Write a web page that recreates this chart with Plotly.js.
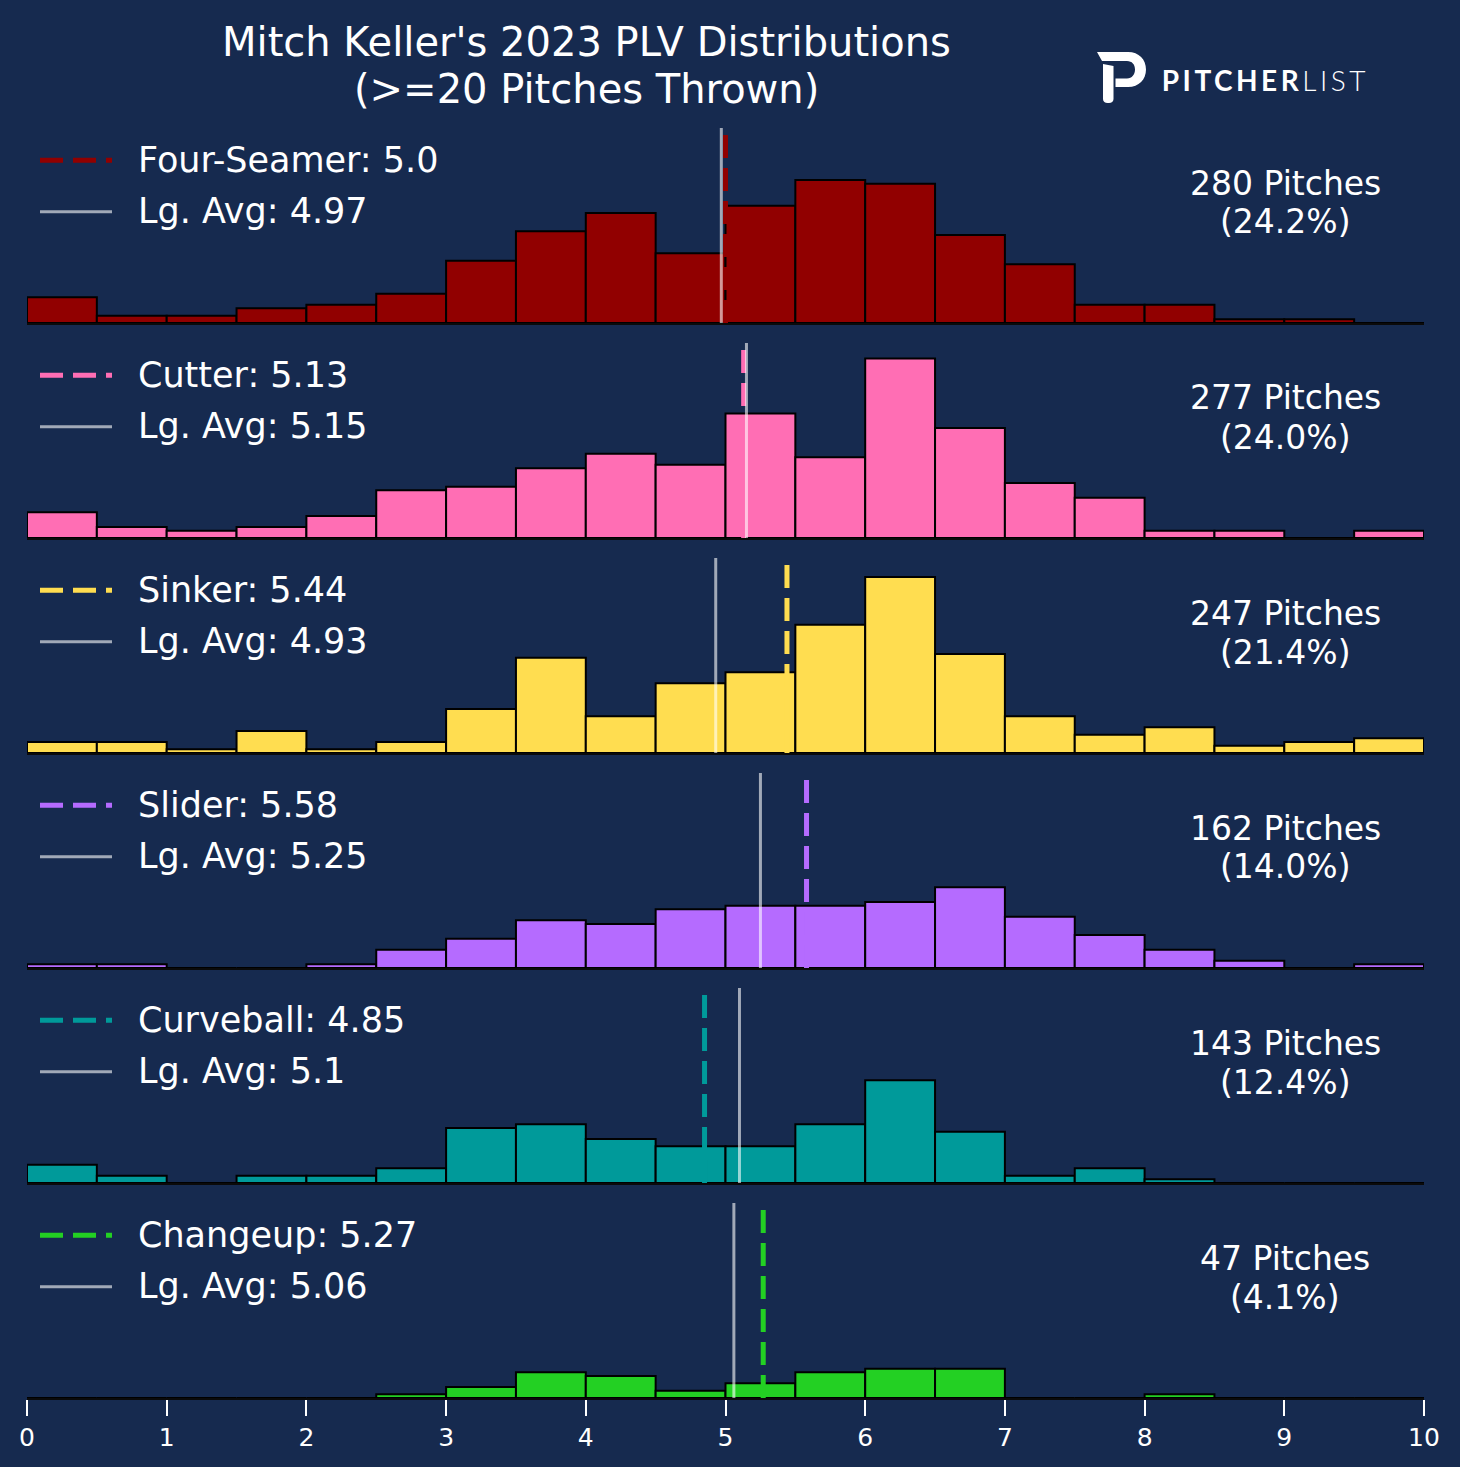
<!DOCTYPE html>
<html>
<head>
<meta charset="utf-8">
<script src="https://cdn.plot.ly/plotly-3.0.1.min.js"></script>
<style>
  html, body { margin: 0; padding: 0; background: #162a4f; }
  #chart { width: 1460px; height: 1467px; }
</style>
</head>
<body>
<div id="chart"></div>
<script>
// bins are 0.5 PLV wide, listed by their left edge
const binStarts = [0, 0.5, 1, 1.5, 2, 2.5, 3, 3.5, 4, 4.5, 5, 5.5, 6, 6.5, 7, 7.5, 8, 8.5, 9, 9.5];
const tickValues = [0, 1, 2, 3, 4, 5, 6, 7, 8, 9, 10];

const pitchNames = ['Four-Seamer', 'Cutter', 'Sinker', 'Slider', 'Curveball', 'Changeup'];
const pitchColors = ['#910000', '#ff6eb4', '#ffdd50', '#b56bff', '#009a9a', '#23d023'];
const pitchCounts = [280, 277, 247, 162, 143, 47];
const pitchMeans = [5.0, 5.13, 5.44, 5.58, 4.85, 5.27];
const leagueAvgs = [4.97, 5.15, 4.93, 5.25, 5.1, 5.06];

// pitch counts per bin
const fourSeamerBins = [7, 2, 2, 4, 5, 8, 17, 25, 30, 19, 32, 39, 38, 24, 16, 5, 5, 1, 1, 0];
const cutterBins = [7, 3, 2, 3, 6, 13, 14, 19, 23, 20, 34, 22, 49, 30, 15, 11, 2, 2, 0, 2];
const sinkerBins = [3, 3, 1, 6, 1, 3, 12, 26, 10, 19, 22, 35, 48, 27, 10, 5, 7, 2, 3, 4];
const sliderBins = [1, 1, 0, 0, 1, 5, 8, 13, 12, 16, 17, 17, 18, 22, 14, 9, 5, 2, 0, 1];
const curveballBins = [5, 2, 0, 2, 2, 4, 15, 16, 12, 10, 10, 16, 28, 14, 2, 4, 1, 0, 0, 0];
const changeupBins = [0, 0, 0, 0, 0, 1, 3, 7, 6, 2, 4, 7, 8, 8, 0, 0, 1, 0, 0, 0];

const binsByPitch = [fourSeamerBins, cutterBins, sinkerBins, sliderBins, curveballBins, changeupBins];

// figure geometry (px)
const W = 1460;
const H = 1467;
const ML = 27;
const MR = 36;
const MT = 128;
const MB = 69;
const PW = W - ML - MR;
const PH = H - MT - MB;
const PANEL_H = 195;
const PANEL_STEP = 215;
const Y_MAX = 53.2;

const BG = '#162a4f';
const LG_COLOR = 'rgba(255,255,255,0.6)';
const DASH = '23px,10px';
const FONT = 'DejaVu Sans, Verdana, sans-serif';

function paperX(px) { return (px - ML) / PW; }
function paperY(py) { return (H - MB - py) / PH; }

// python-ish str() for floats so 5.0 stays "5.0"
function pyStr(v) { return Number.isInteger(v) ? v.toFixed(1) : String(v); }

// turn a pixel-space svg path into paper coords for a layout shape
function pxPath(cmds) {
  return cmds.map((c) => {
    if (typeof c === 'string') return c;
    return paperX(c[0]).toFixed(5) + ',' + paperY(c[1]).toFixed(5);
  }).join(' ');
}

const total = pitchCounts.reduce((a, b) => a + b, 0);

const traces = [];
const shapes = [];
const annotations = [];
const layout = {
  width: W,
  height: H,
  paper_bgcolor: BG,
  plot_bgcolor: BG,
  margin: { l: ML, r: MR, t: MT, b: MB, pad: 0 },
  showlegend: false,
  font: { family: FONT, color: '#ffffff' },
};

pitchNames.forEach((name, i) => {
  const suffix = i === 0 ? '' : String(i + 1);
  const top = MT + i * PANEL_STEP;
  const isBottom = i === pitchNames.length - 1;

  traces.push({
    type: 'bar',
    x: binStarts,
    y: binsByPitch[i],
    width: 0.5,
    offset: 0,
    xaxis: 'x' + suffix,
    yaxis: 'y' + suffix,
    marker: { color: pitchColors[i], line: { color: '#000000', width: 2 } },
    hoverinfo: 'skip',
  });

  layout['xaxis' + suffix] = {
    domain: [0, 1],
    anchor: 'y' + suffix,
    range: [0, 10],
    showgrid: false,
    zeroline: false,
    showline: true,
    linecolor: '#0a0a0a',
    linewidth: 1.5,
    showticklabels: isBottom,
    ticks: isBottom ? 'outside' : '',
    tickvals: tickValues,
    ticklen: 16,
    tickwidth: 2,
    tickcolor: '#ffffff',
    tickfont: { family: FONT, size: 25, color: '#ffffff' },
    fixedrange: true,
  };
  layout['yaxis' + suffix] = {
    domain: [paperY(top + PANEL_H), paperY(top)],
    anchor: 'x' + suffix,
    range: [0, Y_MAX],
    visible: false,
    fixedrange: true,
  };

  // pitch mean (dashed) then league average (solid) across the panel
  shapes.push({
    type: 'line', xref: 'x' + suffix, yref: 'y' + suffix + ' domain',
    x0: pitchMeans[i], x1: pitchMeans[i], y0: 0, y1: 1,
    line: { color: pitchColors[i], width: 5, dash: DASH },
  });
  shapes.push({
    type: 'line', xref: 'x' + suffix, yref: 'y' + suffix + ' domain',
    x0: leagueAvgs[i], x1: leagueAvgs[i], y0: 0, y1: 1,
    line: { color: LG_COLOR, width: 3 },
  });

  // legend handles
  shapes.push({
    type: 'line', xref: 'paper', yref: 'paper',
    x0: paperX(40), x1: paperX(112), y0: paperY(top + 32.3), y1: paperY(top + 32.3),
    line: { color: pitchColors[i], width: 5, dash: DASH },
  });
  shapes.push({
    type: 'line', xref: 'paper', yref: 'paper',
    x0: paperX(40), x1: paperX(112), y0: paperY(top + 83.7), y1: paperY(top + 83.7),
    line: { color: LG_COLOR, width: 3 },
  });

  const legendFont = { family: FONT, size: 35, color: '#ffffff' };
  annotations.push({
    xref: 'paper', yref: 'paper', x: paperX(136), y: paperY(top + 32),
    xanchor: 'left', yanchor: 'middle', showarrow: false,
    text: `${name}: ${pyStr(pitchMeans[i])}`, font: legendFont,
  });
  annotations.push({
    xref: 'paper', yref: 'paper', x: paperX(136), y: paperY(top + 83.3),
    xanchor: 'left', yanchor: 'middle', showarrow: false,
    text: `Lg. Avg: ${pyStr(leagueAvgs[i])}`, font: legendFont,
  });

  const countFont = { family: FONT, size: 33, color: '#ffffff' };
  const pct = (100 * pitchCounts[i] / total).toFixed(1);
  annotations.push({
    xref: 'paper', yref: 'paper', x: paperX(1285), y: paperY(top + 55),
    xanchor: 'center', yanchor: 'middle', showarrow: false,
    text: `${pitchCounts[i]} Pitches`, font: countFont,
  });
  annotations.push({
    xref: 'paper', yref: 'paper', x: paperX(1285), y: paperY(top + 94),
    xanchor: 'center', yanchor: 'middle', showarrow: false,
    text: `(${pct}%)`, font: countFont,
  });
});

// title, two lines
const titleFont = { family: FONT, size: 40, color: '#ffffff' };
annotations.push({
  xref: 'paper', yref: 'paper', x: paperX(586), y: paperY(42),
  xanchor: 'center', yanchor: 'middle', showarrow: false,
  text: "Mitch Keller's 2023 PLV Distributions", font: titleFont,
});
annotations.push({
  xref: 'paper', yref: 'paper', x: paperX(586), y: paperY(89.5),
  xanchor: 'center', yanchor: 'middle', showarrow: false,
  text: '(>=20 Pitches Thrown)', font: titleFont,
});

// pitcher list logo: the split "P" mark plus the wordmark
shapes.push({
  type: 'path', xref: 'paper', yref: 'paper', layer: 'above',
  fillcolor: '#ffffff', line: { width: 0 },
  path: pxPath([
    'M', [1097, 52], 'L', [1128, 52],
    'C', [1139, 52], [1146, 59.5], [1146, 69.5],
    'C', [1146, 79.5], [1139, 87], [1128, 87],
    'L', [1115.5, 87], 'L', [1115.5, 78.5], 'L', [1127, 78.5],
    'C', [1132, 78.5], [1135, 74.5], [1135, 69.5],
    'C', [1135, 64.5], [1132, 61], [1127, 61],
    'L', [1102, 61], 'Z',
  ]),
});
shapes.push({
  type: 'path', xref: 'paper', yref: 'paper', layer: 'above',
  fillcolor: '#ffffff', line: { width: 0 },
  path: pxPath([
    'M', [1103, 64], 'L', [1113.5, 66], 'L', [1113.5, 99],
    'C', [1113.5, 101.5], [1111.5, 103], [1109, 103],
    'L', [1107.5, 103],
    'C', [1105, 103], [1103, 101.5], [1103, 99], 'Z',
  ]),
});
annotations.push({
  xref: 'paper', yref: 'paper', x: paperX(1265), y: paperY(80),
  xanchor: 'center', yanchor: 'middle', showarrow: false,
  text: '<b>PITCHER</b>LIST', font: { family: 'Lato, Roboto, sans-serif', size: 28, weight: 300, color: '#ffffff' },
});

layout.shapes = shapes;
layout.annotations = annotations;

Plotly.newPlot('chart', traces, layout, { displayModeBar: false, staticPlot: true }).then((gd) => {
  // spread the logo word out a bit like the real wordmark
  gd.querySelectorAll('.annotation-text').forEach((el) => {
    if (el.textContent === 'PITCHERLIST') {
      el.style.letterSpacing = '3.5px';
    }
  });
});
</script>
</body>
</html>
